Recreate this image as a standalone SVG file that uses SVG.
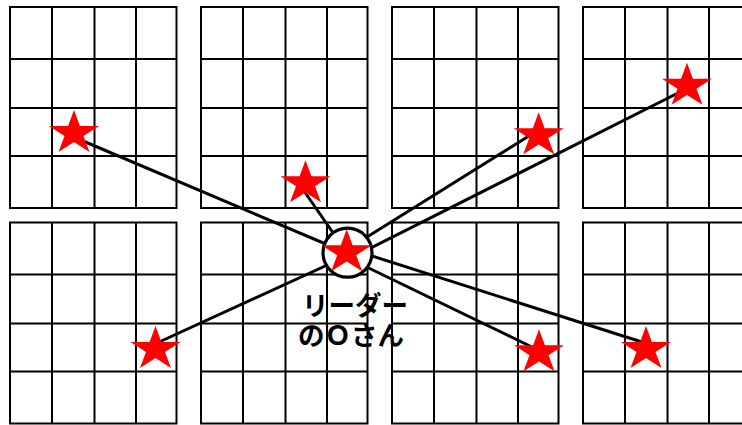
<svg xmlns="http://www.w3.org/2000/svg" width="742" height="425" viewBox="0 0 742 425">
<defs>
<style>
.grid{fill:none;stroke:#000;stroke-width:2}
.conn{stroke:#000;stroke-width:3;fill:none}
.star{fill:#ff0000}
.lbl{font-family:"Noto Sans CJK JP","Noto Sans",sans-serif;font-size:26.5px;font-weight:bold;fill:#000;text-anchor:middle}
</style>
<path id="blk" class="grid" d="M0,0H166.5V201H0Z M42,0V201 M84.5,0V201 M126,0V201 M0,52H166.5 M0,101H166.5 M0,149H166.5"/>
<polygon id="st" class="star" points="0,-23.2 5.9,-7.2 25,-7.2 9.5,2.7 15.5,18.8 0,8.9 -15.5,18.8 -9.5,2.7 -25,-7.2 -5.9,-7.2"/>
</defs>
<rect width="742" height="425" fill="#fff"/>
<g id="grids">
<use href="#blk" x="10" y="7"/>
<use href="#blk" x="201" y="7"/>
<use href="#blk" x="392" y="7"/>
<use href="#blk" x="583" y="7"/>
<use href="#blk" x="10" y="222.5"/>
<use href="#blk" x="201" y="222.5"/>
<use href="#blk" x="392" y="222.5"/>
<use href="#blk" x="583" y="222.5"/>
</g>
<g id="connectors">
<line class="conn" x1="76" y1="138" x2="347" y2="253"/>
<line class="conn" x1="303" y1="189.5" x2="347" y2="253"/>
<line class="conn" x1="157" y1="343" x2="347" y2="256"/>
<line class="conn" x1="347" y1="249.5" x2="533" y2="133.5"/>
<line class="conn" x1="350" y1="258.5" x2="683" y2="90.5"/>
<line class="conn" x1="347" y1="257.5" x2="535" y2="348.5"/>
<line class="conn" x1="347" y1="248" x2="645" y2="343"/>
</g>
<g id="member1"><use href="#st" x="74" y="133.2"/></g>
<g id="member2"><use href="#st" x="305.5" y="183.5"/></g>
<g id="member3"><use href="#st" x="538.7" y="135.5"/></g>
<g id="member4"><use href="#st" x="687" y="86"/></g>
<g id="member5"><use href="#st" x="155.5" y="349.2"/></g>
<g id="member6"><use href="#st" x="539" y="352.5"/></g>
<g id="member7"><use href="#st" x="646" y="349.2"/></g>
<g id="leader">
<circle cx="347.5" cy="252.7" r="24.5" fill="#fff" stroke="#000" stroke-width="3.2"/>
<use href="#st" x="346.7" y="252.5"/>
<text class="lbl"><tspan x="355" y="315">リーダー</tspan><tspan x="351" y="344.5">のＯさん</tspan></text>
</g>
</svg>
